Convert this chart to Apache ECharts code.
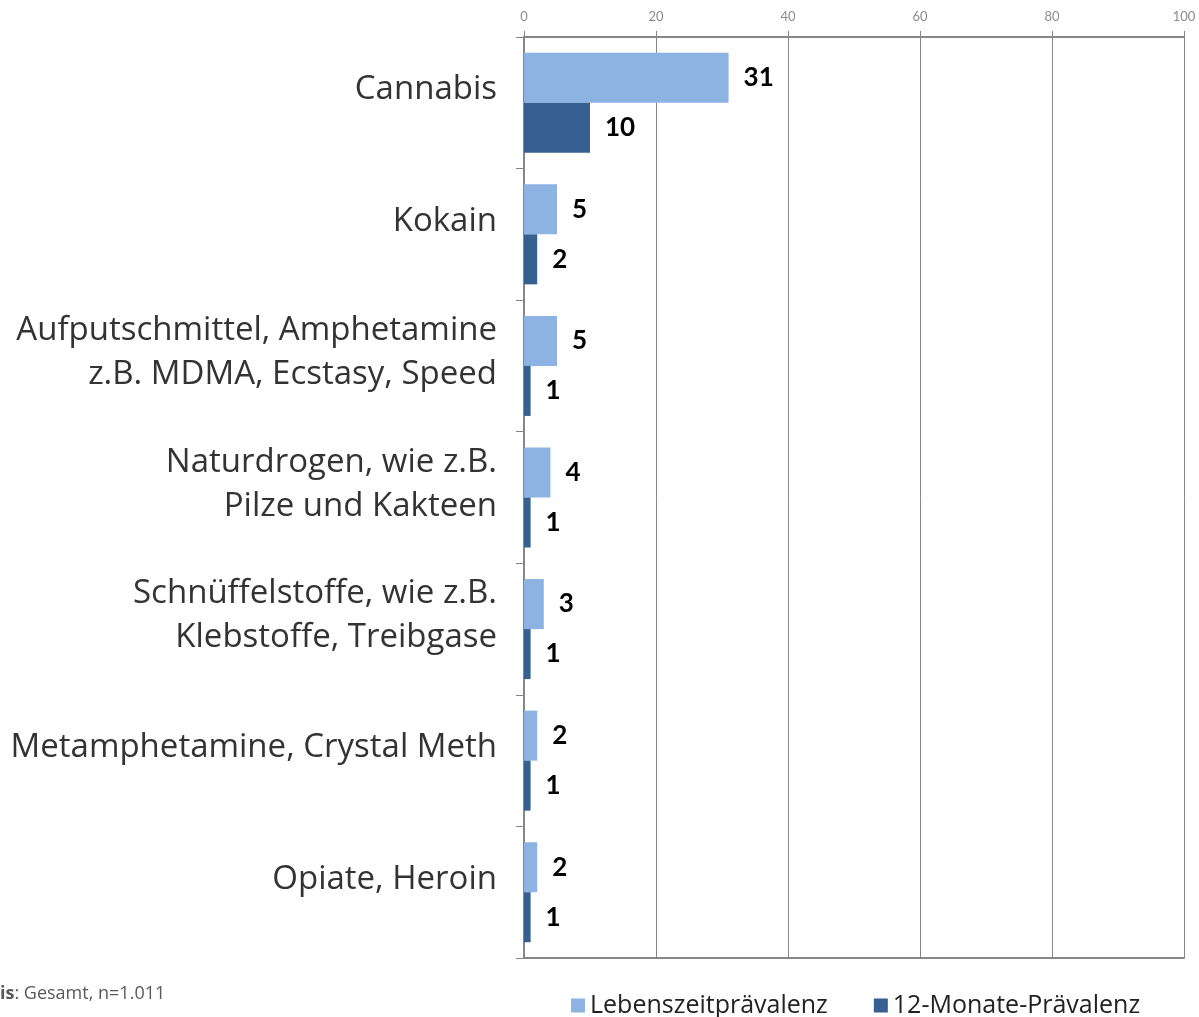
<!DOCTYPE html>
<html>
<head>
<meta charset="utf-8">
<script src="https://cdn.jsdelivr.net/npm/echarts@6/dist/echarts.min.js"></script>
<style>
  html, body { margin: 0; padding: 0; background: #fff; }
  #chart { width: 1199px; height: 1017px; }
</style>
</head>
<body>
<div id="chart"></div>
<script>
// Kategorien (von oben nach unten)
var categories = [
  'Cannabis',
  'Kokain',
  'Aufputschmittel, Amphetamine\nz.B. MDMA, Ecstasy, Speed',
  'Naturdrogen, wie z.B.\nPilze und Kakteen',
  'Schnüffelstoffe, wie z.B.\nKlebstoffe, Treibgase',
  'Metamphetamine, Crystal Meth',
  'Opiate, Heroin'
]
var lebenszeit = [31, 5, 5, 4, 3, 2, 2]
var zwoelfMonate = [10, 2, 1, 1, 1, 1, 1]
var seriesNames = ['Lebenszeitprävalenz', '12-Monate-Prävalenz']

var chart = echarts.init(document.getElementById('chart'))

var valueLabel = {
  show: true,
  position: 'right',
  distance: 15,
  fontFamily: 'Lato',
  fontWeight: 'bold',
  fontSize: 26,
  color: '#000'
}

var option = {
  animation: false,
  grid: {
    left: 524,
    right: 15,
    top: 37,
    bottom: 59
  },
  legend: {
    data: seriesNames,
    top: 988,
    left: 566,
    itemWidth: 14,
    itemHeight: 14,
    itemGap: 46,
    icon: 'rect',
    textStyle: {
      fontFamily: 'Open Sans',
      fontSize: 25,
      color: '#222'
    }
  },
  graphic: [
    {
      type: 'text',
      left: 0,
      top: 985,
      style: {
        text: '{b|is}: Gesamt, n=1.011',
        fontFamily: 'Open Sans',
        fontSize: 18,
        fill: '#595959',
        rich: {
          b: { fontFamily: 'Open Sans', fontSize: 18, fontWeight: 'bold', color: '#595959' }
        }
      }
    }
  ],
  xAxis: [
    {
      type: 'value',
      position: 'top',
      min: 0,
      max: 100,
      interval: 20,
      axisLine: { show: true, lineStyle: { color: '#868686', width: 2 } },
      axisTick: { show: true, length: 6, lineStyle: { color: '#868686' } },
      axisLabel: {
        color: '#8c8c8c',
        fontFamily: 'Lato',
        fontSize: 13,
        margin: 14
      },
      splitLine: { show: true, lineStyle: { color: '#868686', width: 1 } }
    },
    {
      // untere Rahmenlinie
      type: 'value',
      position: 'bottom',
      min: 0,
      max: 100,
      axisLine: { show: true, lineStyle: { color: '#868686', width: 2 } },
      axisTick: { show: false },
      axisLabel: { show: false },
      splitLine: { show: false }
    }
  ],
  yAxis: {
    type: 'category',
    inverse: true,
    data: categories,
    axisLine: { show: true, lineStyle: { color: '#868686', width: 2 } },
    axisTick: { show: true, length: 8, lineStyle: { color: '#868686' } },
    axisLabel: {
      margin: 27,
      align: 'right',
      formatter: function (val) {
        return val.split('\n').map(function (s) { return '{c|' + s + '}' }).join('\n')
      },
      rich: {
        c: {
          color: '#333',
          fontFamily: 'Open Sans',
          fontSize: 33,
          lineHeight: 44,
          align: 'right'
        }
      },
      padding: [0, 0, 26, 0]
    }
  },
  series: [
    {
      name: seriesNames[0],
      type: 'bar',
      data: lebenszeit,
      barWidth: 50,
      barGap: '0%',
      itemStyle: { color: '#8db3e2' },
      label: valueLabel
    },
    {
      name: seriesNames[1],
      type: 'bar',
      data: zwoelfMonate,
      barWidth: 50,
      barGap: '0%',
      itemStyle: { color: '#366092' },
      label: valueLabel
    }
  ]
}

chart.setOption(option)
</script>
</body>
</html>
